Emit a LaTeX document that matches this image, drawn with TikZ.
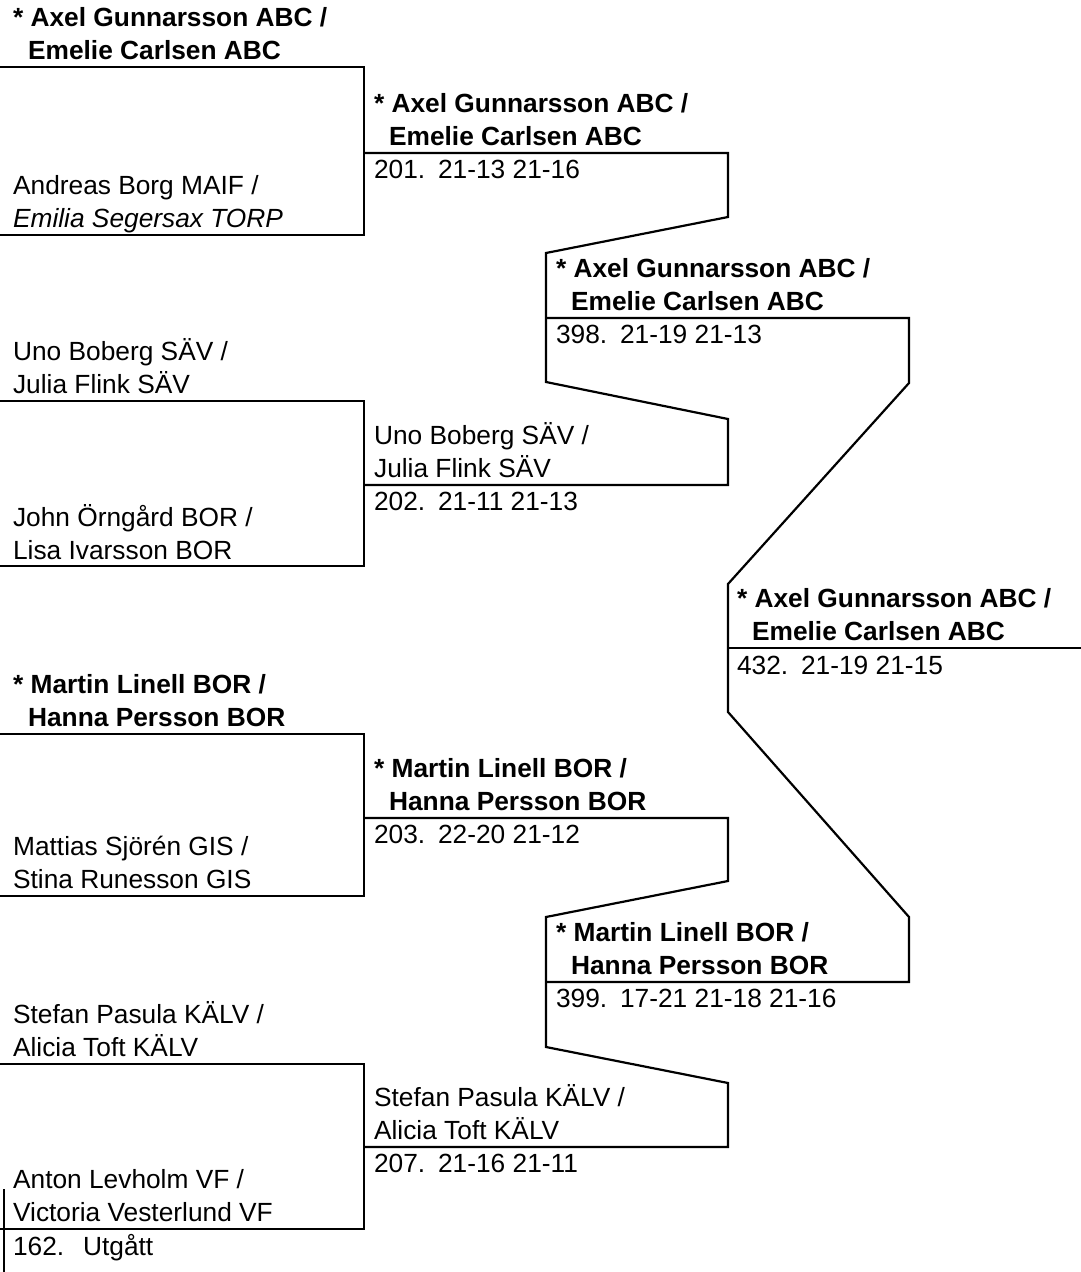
\documentclass[tikz,border=0pt]{standalone}
\usepackage{fontspec}
\setmainfont{Liberation Sans}
\usepackage{tikz}

\begin{document}
\begin{tikzpicture}[x=1pt, y=-1pt, line width=2.2pt,
    team/.style={anchor=south west, inner sep=0pt, align=left, text depth=0pt, font=\fontsize{26.3}{33}\selectfont},
    seed/.style={team, font=\fontsize{26.3}{33}\selectfont\bfseries},
    score/.style={anchor=base west, inner sep=0pt, font=\fontsize{26.3}{33}\selectfont}]
    \useasboundingbox (0,0) rectangle (1081,1272);
                \node[seed] (t1) at (12,61) {* Axel Gunnarsson ABC /\\\hspace*{15pt}Emelie Carlsen ABC};
                \node[team] (t2) at (12,229) {Andreas Borg MAIF /\\\textit{Emilia Segersax TORP}};
                \node[team] (t3) at (12,395) {Uno Boberg SÄV /\\Julia Flink SÄV};
                \node[team] (t4) at (12,561) {John Örngård BOR /\\Lisa Ivarsson BOR};
                \node[seed] (t5) at (12,728) {* Martin Linell BOR /\\\hspace*{15pt}Hanna Persson BOR};
                \node[team] (t6) at (12,890) {Mattias Sjörén GIS /\\Stina Runesson GIS};
                \node[team] (t7) at (12,1058) {Stefan Pasula KÄLV /\\Alicia Toft KÄLV};
                \node[team] (t8) at (12,1223) {Anton Levholm VF /\\Victoria Vesterlund VF};
                \node[score] (s162) at (12,1255) {\makebox[70pt][l]{162.}Utgått};

                \node[seed] (w201) at (373,147) {* Axel Gunnarsson ABC /\\\hspace*{15pt}Emelie Carlsen ABC};
                \node[score] (s201) at (373,178) {\makebox[64pt][l]{201.}21-13 21-16};
                \node[team] (w202) at (373,479) {Uno Boberg SÄV /\\Julia Flink SÄV};
                \node[score] (s202) at (373,510) {\makebox[64pt][l]{202.}21-11 21-13};
                \node[seed] (w203) at (373,812) {* Martin Linell BOR /\\\hspace*{15pt}Hanna Persson BOR};
                \node[score] (s203) at (373,843) {\makebox[64pt][l]{203.}22-20 21-12};
                \node[team] (w207) at (373,1141) {Stefan Pasula KÄLV /\\Alicia Toft KÄLV};
                \node[score] (s207) at (373,1172) {\makebox[64pt][l]{207.}21-16 21-11};

                \node[seed] (w398) at (555,312) {* Axel Gunnarsson ABC /\\\hspace*{15pt}Emelie Carlsen ABC};
                \node[score] (s398) at (555,343) {\makebox[64pt][l]{398.}21-19 21-13};
                \node[seed] (w399) at (555,976) {* Martin Linell BOR /\\\hspace*{15pt}Hanna Persson BOR};
                \node[score] (s399) at (555,1007) {\makebox[64pt][l]{399.}17-21 21-18 21-16};

                \node[seed] (w432) at (736,642) {* Axel Gunnarsson ABC /\\\hspace*{15pt}Emelie Carlsen ABC};
                \node[score] (s432) at (736,674) {\makebox[64pt][l]{432.}21-19 21-15};

                \foreach \t/\b in {67/235, 401/566, 734/896, 1064/1229}
                    \draw (0,\t) -| (364,\b) -- (0,\b);
                \draw (4,1189) -- (4,1272);
                \draw (364,153) -- (728,153) -- (728,217) -- (546,253) -- (546,382) -- (728,419) -- (728,485) -- (364,485);
                \draw (364,818) -- (728,818) -- (728,881) -- (546,917) -- (546,1047) -- (728,1083) -- (728,1147) -- (364,1147);
                \draw (546,318) -- (909,318) -- (909,383) -- (728,584) -- (728,712) -- (909,917) -- (909,982) -- (546,982);
                \draw (728,648) -- (1081,648);
            \end{tikzpicture}
\end{document}
